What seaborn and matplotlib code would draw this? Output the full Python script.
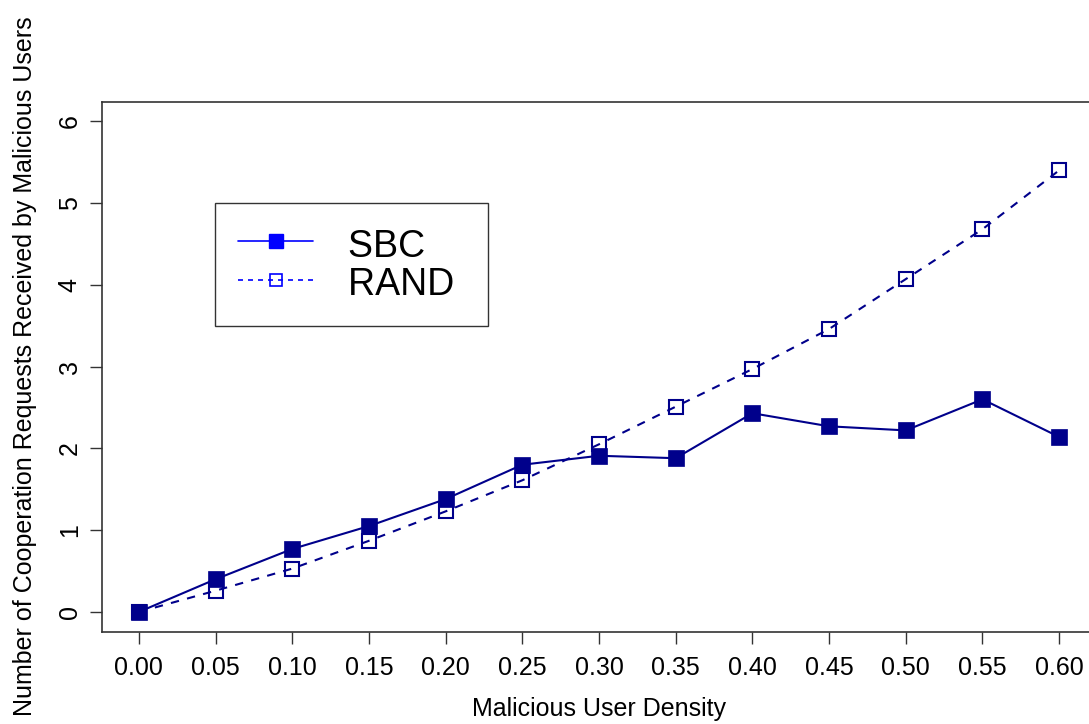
import matplotlib
matplotlib.use("Agg")
import matplotlib.pyplot as plt
from matplotlib.lines import Line2D
import numpy as np
import pandas as pd
import seaborn as sns

# Malicious user density (x) and cooperation requests received (y)
density = [0.00, 0.05, 0.10, 0.15, 0.20, 0.25, 0.30, 0.35, 0.40, 0.45, 0.50, 0.55, 0.60]
sbc = [0.00, 0.40, 0.77, 1.05, 1.38, 1.80, 1.91, 1.88, 2.43, 2.27, 2.22, 2.60, 2.14]
rand = [0.00, 0.26, 0.53, 0.87, 1.23, 1.61, 2.05, 2.51, 2.97, 3.46, 4.07, 4.68, 5.40]
series_names = ["SBC", "RAND"]
x_ticks = density
y_ticks = [0, 1, 2, 3, 4, 5, 6]

sns.set_theme(style="ticks")
plt.rcParams["font.family"] = ["Liberation Sans", "DejaVu Sans"]
plt.rcParams["text.color"] = "black"
plt.rcParams["axes.labelcolor"] = "black"
plt.rcParams["xtick.color"] = "black"
plt.rcParams["ytick.color"] = "black"

W, H = 1089, 724
fig = plt.figure(figsize=(W / 100, H / 100), dpi=100)
left, right, top, bottom = 102, 1096, 101.6, 631.6
ax = fig.add_axes([left / W, 1 - bottom / H, (right - left) / W, (bottom - top) / H])

df = pd.DataFrame({"density": density, "SBC": sbc, "RAND": rand})
line_col = "#00008B"

sns.lineplot(data=df, x="density", y="SBC", ax=ax, color=line_col, lw=1.5,
             marker="s", markersize=11, markerfacecolor=line_col,
             markeredgecolor=line_col, markeredgewidth=0.5, zorder=3)
sns.lineplot(data=df, x="density", y="RAND", ax=ax, color=line_col, lw=1.5,
             linestyle=(0, (4, 4)), marker="s", markersize=10,
             markerfacecolor="none", markeredgecolor=line_col,
             markeredgewidth=1.5, zorder=3)

ax.set_xlim(-0.024, 0.624)
ax.set_ylim(-0.24, 6.24)
ax.set_xticks(x_ticks)
ax.set_xticklabels([f"{v:.2f}" for v in x_ticks])
ax.set_yticks(y_ticks)
ax.set_yticklabels([str(v) for v in y_ticks], rotation=90, va="center")
ax.tick_params(axis="both", direction="out", length=8.5, width=1.0,
               color="#333333", labelsize=18, pad=9, labelcolor="black")
ax.tick_params(axis="y", pad=6)
for s in ax.spines.values():
    s.set_visible(True)
    s.set_color("#333333")
    s.set_linewidth(1.2)
ax.set_xlabel("")
ax.set_ylabel("")

fig.text(599 / W, 1 - 709 / H, "Malicious User Density", ha="center", va="center",
         fontsize=18, color="black")
fig.text(25 / W, 1 - 366 / H,
         "Number of Cooperation Requests Received by Malicious Users",
         ha="center", va="center", rotation=90, fontsize=18, color="black")

handles = [
    Line2D([], [], color="blue", lw=1.2, marker="s", markersize=10,
           markerfacecolor="blue", markeredgecolor="blue"),
    Line2D([], [], color="blue", lw=1.2, linestyle=(0, (3, 3)), marker="s",
           markersize=9, markerfacecolor="none", markeredgecolor="blue",
           markeredgewidth=1.2),
]
leg = ax.legend(handles, [n + " " for n in series_names], loc="upper left",
                bbox_to_anchor=((215 - left) / (right - left), 1 - (203 - top) / (bottom - top)),
                fontsize=27, frameon=True, fancybox=False, handlelength=2.0,
                handleheight=1.07, handletextpad=0.92, borderpad=0.62,
                labelspacing=0.0, borderaxespad=0)
leg.get_frame().set_edgecolor("black")
leg.get_frame().set_linewidth(1.0)
for t in leg.get_texts():
    t.set_color("black")

fig.savefig("out.png", dpi=100)
